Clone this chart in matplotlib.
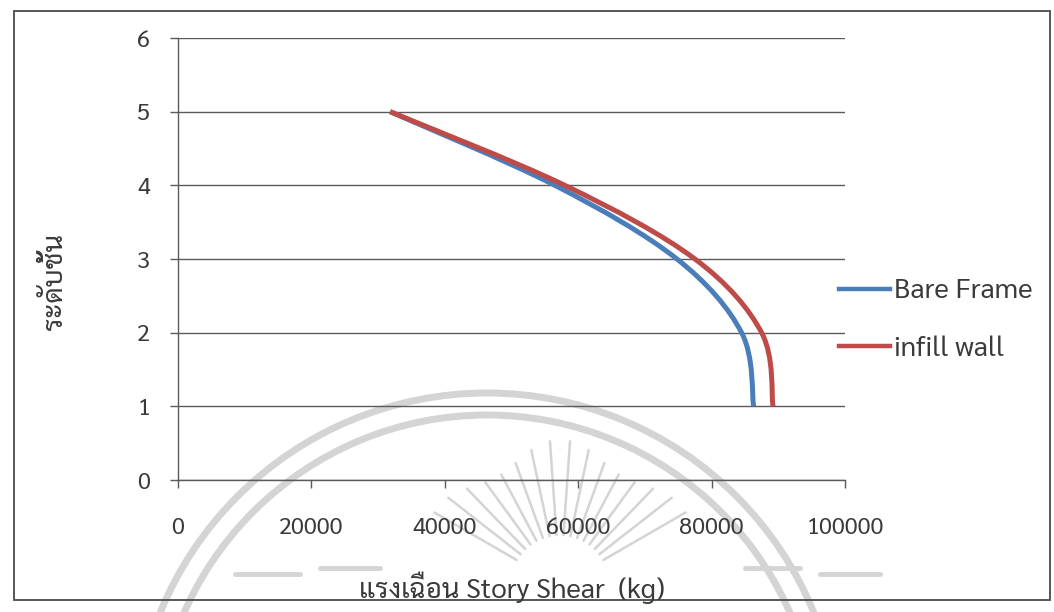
import numpy as np
import matplotlib
matplotlib.use("Agg")
import matplotlib.pyplot as plt
from matplotlib import font_manager as fm
from matplotlib.path import Path
from matplotlib.patches import PathPatch, Rectangle, Arc
from matplotlib.lines import Line2D

# ---- data ----
floors = [1, 2, 3, 4, 5]
bare_frame = [86300, 84500, 74800, 56500, 31800]
infill_wall = [89200, 87500, 77500, 58000, 31800]
series_names = ["Bare Frame", "infill wall"]
series_colors = ["#4a7ebb", "#be4b48"]
x_ticks = [0, 20000, 40000, 60000, 80000, 100000]
y_ticks = [0, 1, 2, 3, 4, 5, 6]
x_label = "แรงเฉือน Story Shear  (kg)"
y_label = "ระดับชั้น"

# ---- fonts: a Thai-capable family first, DejaVu as fallback ----
available = {f.name for f in fm.fontManager.ttflist}
families = [f for f in ["Sarabun", "Noto Sans Thai", "Noto Sans Thai Looped", "Athiti"]
            if f in available][:1] + ["DejaVu Sans"]
plt.rcParams["font.family"] = families

TEXT = "#3a3a3a"
GRID = "#5a5a5a"


def smooth_path(xs, ys):
    """Cubic Bezier path through the points (Catmull-Rom style smoothing)."""
    pts = np.column_stack([xs, ys]).astype(float)
    n = len(pts)
    verts = [pts[0]]
    codes = [Path.MOVETO]
    for i in range(n - 1):
        p0 = pts[i - 1] if i > 0 else pts[i]
        p1 = pts[i]
        p2 = pts[i + 1]
        p3 = pts[i + 2] if i + 2 < n else pts[i + 1]
        c1 = p1 + (p2 - p0) / 6.0
        c2 = p2 - (p3 - p1) / 6.0
        verts += [c1, c2, p2]
        codes += [Path.CURVE4] * 3
    return Path(verts, codes)


W, H = 1054, 612
fig = plt.figure(figsize=(W / 100, H / 100), dpi=100)
fig.patch.set_facecolor("white")

# ---- faint stamp in the background (pixel coordinates, origin top-left) ----
bg = fig.add_axes([0, 0, 1, 1], zorder=0)
bg.set_xlim(0, W)
bg.set_ylim(H, 0)
bg.axis("off")
stamp = "#d4d4d4"
cx, cy = 487, 746
for r in (353, 331):
    bg.add_patch(Arc((cx, cy), 2 * r, 2 * r, theta1=180, theta2=360,
                     color=stamp, lw=5, zorder=0))
sx, sy = 560, 585
for ang in np.arange(30, 152, 8):
    a = np.deg2rad(ang)
    r0, r1 = 50, 125 + 20 * np.sin(a * 3) ** 2
    bg.plot([sx + r0 * np.cos(a), sx + r1 * np.cos(a)],
            [sy - r0 * np.sin(a), sy - r1 * np.sin(a)],
            color=stamp, lw=1.8, solid_capstyle="round", zorder=0)
for x0, x1, yy in [(235, 300, 574), (320, 380, 568), (745, 800, 568), (820, 880, 574)]:
    bg.plot([x0, x1], [yy, yy], color=stamp, lw=3.5, solid_capstyle="round", zorder=0)

# outer frame
bg.add_patch(Rectangle((14, 11), 1036, 589, fill=False, edgecolor="#4a4a4a",
                       lw=1.3, zorder=1))

# ---- main plot ----
ax = fig.add_axes([178 / W, 1 - 480 / H, (845 - 178) / W, (480 - 38) / H], zorder=2)
ax.set_facecolor("none")
ax.set_xlim(0, 100000)
ax.set_ylim(0, 6)
ax.set_xticks(x_ticks)
ax.set_yticks(y_ticks)
ax.set_xticklabels([str(v) for v in x_ticks])
ax.set_yticklabels([str(v) for v in y_ticks])
ax.grid(axis="y", color=GRID, lw=1.0)
ax.set_axisbelow(True)
for side in ("top", "right"):
    ax.spines[side].set_visible(False)
for side in ("left", "bottom"):
    ax.spines[side].set_color(GRID)
    ax.spines[side].set_linewidth(1.0)
ax.tick_params(axis="both", direction="out", length=6, width=1.0, color=GRID,
               labelcolor=TEXT, labelsize=17)
ax.tick_params(axis="y", pad=14)
ax.tick_params(axis="x", pad=20)

for vals, color in zip([bare_frame, infill_wall], series_colors):
    ax.add_patch(PathPatch(smooth_path(vals, floors), fill=False, edgecolor=color,
                           lw=3.6, capstyle="butt", zorder=3))

ax.set_xlabel(x_label, fontsize=20, color=TEXT, labelpad=24)
ax.set_ylabel(y_label, fontsize=20, color=TEXT, va="center")
ax.yaxis.set_label_coords((55 - 178) / 667, (480 - 281) / 442)

handles = [Line2D([], [], color=c, lw=3.2) for c in series_colors]
fig.legend(handles, series_names, loc="center left",
           bbox_to_anchor=(814 / W, 1 - 320 / H), frameon=False,
           fontsize=20, labelcolor=TEXT, handlelength=1.85, handletextpad=0.12,
           labelspacing=1.1)

fig.savefig("out.png", dpi=100, facecolor="white")
